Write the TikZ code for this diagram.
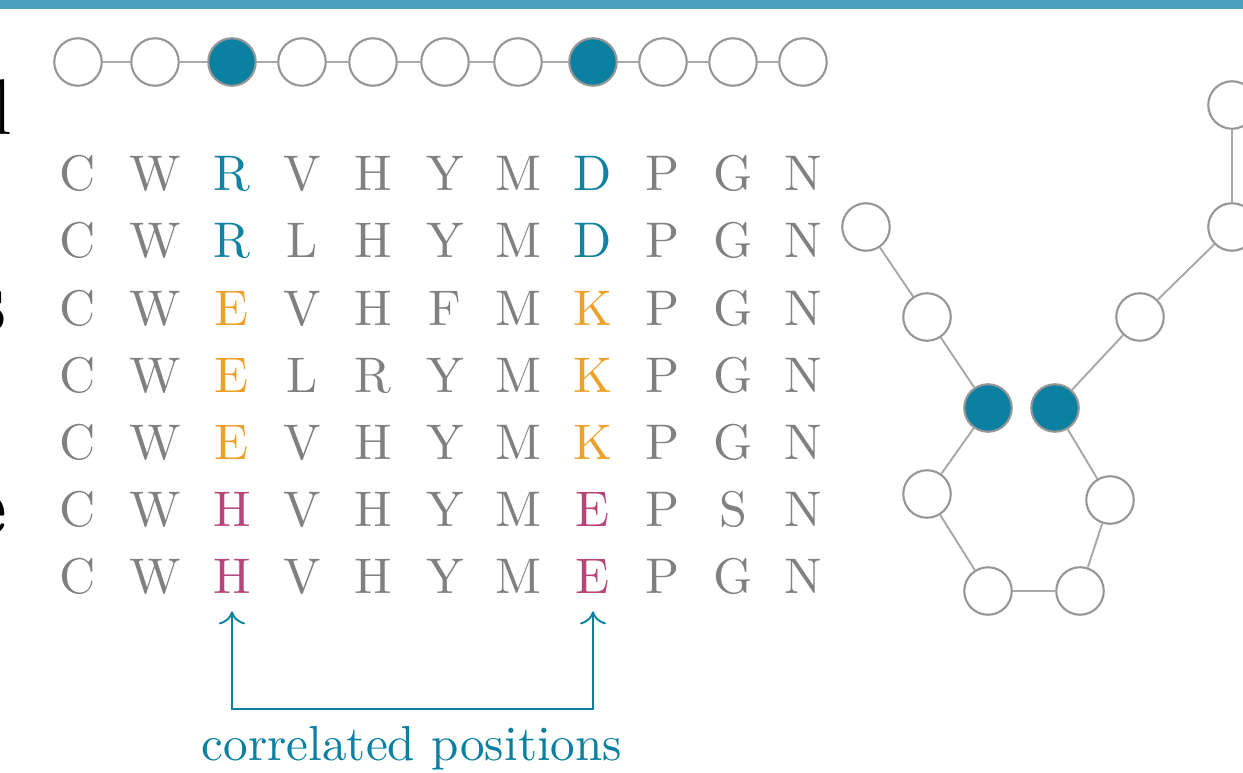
\documentclass[tikz,border=0pt]{standalone}
\usepackage{fontspec}
\usepackage{xcolor}
\usepackage{tikz}
\usetikzlibrary{arrows.meta,positioning,calc}
\newfontfamily\lmten{lmroman10-regular.otf}
\definecolor{topbar}{RGB}{74,161,189}
\definecolor{site}{RGB}{11,128,160}
\definecolor{ring}{RGB}{150,150,150}
\definecolor{link}{RGB}{168,168,168}
\definecolor{plain}{RGB}{128,128,128}
\definecolor{grpa}{RGB}{16,130,162}
\definecolor{grpb}{RGB}{236,162,42}
\definecolor{grpc}{RGB}{182,70,122}
\tikzset{
  res/.style={circle, draw=ring, line width=1.2pt, fill=white, minimum size=0.95cm, inner sep=0pt},
  hot/.style={res, fill=site},
  bond/.style={draw=link, line width=1.1pt},
  letter/.style={inner sep=0pt, anchor=base, font=\lmten\fontsize{28.5}{34}\selectfont},
  corr/.style={draw=site, line width=1.1pt,
    {Computer Modern Rightarrow[length=2.6mm,width=5.2mm]}-{Computer Modern Rightarrow[length=2.6mm,width=5.2mm]}},
  lbl/.style={text=site, inner sep=0pt, anchor=base, font=\lmten\fontsize{28}{34}\selectfont},
  frag/.style={inner sep=0pt, anchor=base east, text=black}
}
\begin{document}
\begin{tikzpicture}[x=0.02cm, y=-0.02cm]
  \useasboundingbox (0,0) rectangle (1243,773);
  \fill[topbar] (0,0) rectangle (1243,9);

  % cut-off text of the slide on the left
  \begin{scope}
    \clip (0,0) rectangle (1243,773);
    \node[frag, font=\fontsize{45}{50}\selectfont] (f1) at (13,135) {l};
    \node[frag, font=\fontsize{30}{34}\selectfont] (f2) at (3,223) {t};
    \node[frag, font=\fontsize{50}{56}\selectfont\bfseries] (f3) at (8,332) {s};
    \node[frag, font=\fontsize{42}{48}\selectfont\bfseries] (f4) at (4,430) {s};
    \node[frag, font=\fontsize{50}{56}\selectfont\bfseries] (f5) at (8,535) {e};
    \node[frag, font=\fontsize{45}{50}\selectfont] (f6) at (3,647) {-};
  \end{scope}

  % sequence
  \foreach \x/\s [count=\i] in {78/res,155/res,232/hot,302/res,373/res,445/res,518/res,593/hot,663/res,733/res,803/res}
    \node[\s] (s\i) at (\x,62) {};
  \foreach \i [evaluate=\i as \j using int(\i+1)] in {1,...,10}
    \draw[bond] (s\i) -- (s\j);

  % alignment
  \foreach \row/\hi [count=\r] in {{C,W,R,V,H,Y,M,D,P,G,N}/grpa,
      {C,W,R,L,H,Y,M,D,P,G,N}/grpa,
      {C,W,E,V,H,F,M,K,P,G,N}/grpb,
      {C,W,E,L,R,Y,M,K,P,G,N}/grpb,
      {C,W,E,V,H,Y,M,K,P,G,N}/grpb,
      {C,W,H,V,H,Y,M,E,P,S,N}/grpc,
      {C,W,H,V,H,Y,M,E,P,G,N}/grpc}
    \foreach \a [count=\c] in \row {
      \edef\tc{plain}
      \ifnum\c=3 \edef\tc{\hi}\fi
      \ifnum\c=8 \edef\tc{\hi}\fi
      \node[letter, text=\tc] (r\r c\c) at ($(s\c)+(0,{129+67*(\r-1)})$) {\a};
    }

  \draw[corr] ([yshift=-0.36cm]r7c3.south) -- ++(0,98) -| ([yshift=-0.36cm]r7c8.south);
  \node[lbl] (corrtxt) at (412,760) {correlated positions};

  % folded chain
  \node[res] (g1) at (866,227) {};
  \node[res] (g2) at (927,317) {};
  \node[hot] (g3) at (988,408) {};
  \node[res] (g4) at (927,494) {};
  \node[res] (g5) at (988,591) {};
  \node[res] (g6) at (1080,591) {};
  \node[res] (g7) at (1110,500) {};
  \node[hot] (g8) at (1055,408) {};
  \node[res] (g9) at (1140,317) {};
  \node[res] (g10) at (1232,227) {};
  \node[res] (g11) at (1232,105) {};
  \foreach \i [evaluate=\i as \j using int(\i+1)] in {1,...,10}
    \draw[bond] (g\i) -- (g\j);
\end{tikzpicture}
\end{document}
